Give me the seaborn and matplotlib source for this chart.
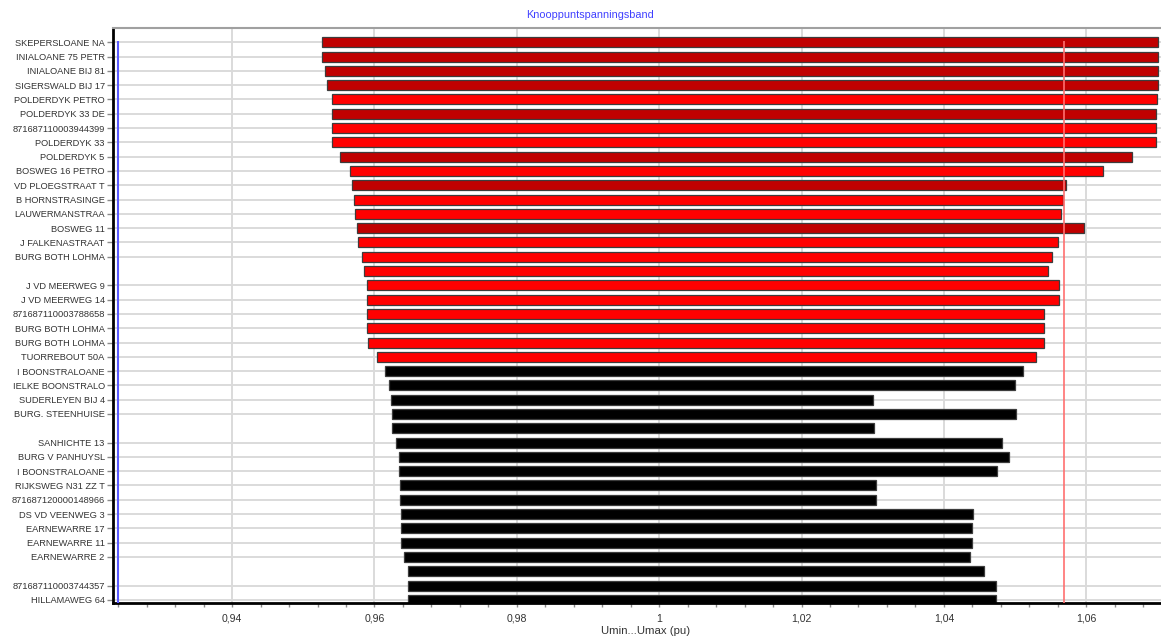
import matplotlib
matplotlib.use("Agg")
import numpy as np
import pandas as pd
import matplotlib.pyplot as plt
import seaborn as sns
from matplotlib.ticker import MultipleLocator, FixedLocator, FuncFormatter

# node names, top to bottom (empty ones have no label in the source)
names = [
    "SKEPERSLOANE NA", "INIALOANE 75 PETR", "INIALOANE BIJ 81", "SIGERSWALD BIJ 17",
    "POLDERDYK PETRO", "POLDERDYK 33 DE", "871687110003944399", "POLDERDYK 33",
    "POLDERDYK 5", "BOSWEG 16 PETRO", "VD PLOEGSTRAAT T", "B HORNSTRASINGE",
    "LAUWERMANSTRAA", "BOSWEG 11", "J FALKENASTRAAT", "BURG BOTH LOHMA", "",
    "J VD MEERWEG 9", "J VD MEERWEG 14", "871687110003788658", "BURG BOTH LOHMA",
    "BURG BOTH LOHMA", "TUORREBOUT 50A", "I BOONSTRALOANE", "IELKE BOONSTRALO",
    "SUDERLEYEN BIJ 4", "BURG. STEENHUISE", "", "SANHICHTE 13", "BURG V PANHUYSL",
    "I BOONSTRALOANE", "RIJKSWEG N31 ZZ T", "871687120000148966", "DS VD VEENWEG 3",
    "EARNEWARRE 17", "EARNEWARRE 11", "EARNEWARRE 2", "", "871687110003744357",
    "HILLAMAWEG 64",
]

u_min = [
    0.9527, 0.9527, 0.9530, 0.9533, 0.9540, 0.9541, 0.9541, 0.9541,
    0.9551, 0.9565, 0.9568, 0.9571, 0.9572, 0.9575, 0.9577, 0.9582, 0.9585,
    0.9589, 0.9589, 0.9590, 0.9590, 0.9591, 0.9603, 0.9615, 0.9620,
    0.9623, 0.9625, 0.9625, 0.9630, 0.9635, 0.9635, 0.9636, 0.9636, 0.9637,
    0.9638, 0.9638, 0.9642, 0.9647, 0.9647, 0.9647,
]

u_max = [
    1.0701, 1.0701, 1.0701, 1.0701, 1.0700, 1.0698, 1.0698, 1.0698,
    1.0664, 1.0624, 1.0571, 1.0568, 1.0564, 1.0597, 1.0560, 1.0552, 1.0546,
    1.0562, 1.0562, 1.0541, 1.0541, 1.0540, 1.0529, 1.0511, 1.0500,
    1.0300, 1.0501, 1.0302, 1.0482, 1.0491, 1.0474, 1.0304, 1.0304, 1.0441,
    1.0440, 1.0440, 1.0437, 1.0456, 1.0473, 1.0473,
]

shade = (["dark"] * 4
         + ["bright", "dark", "bright", "bright", "dark", "bright", "dark",
            "bright", "bright", "dark"]
         + ["bright"] * 9
         + ["black"] * 17)

u_limit = 1.0569   # red reference line
u_low = 0.9240     # blue reference line

shade_colors = {"dark": "#C00000", "bright": "#FF0000", "black": "#000000"}

sns.set_theme(style="whitegrid")
plt.rcParams["font.family"] = ["Liberation Sans", "DejaVu Sans"]

u_min = np.array(u_min)
u_max = np.array(u_max)
df = pd.DataFrame({"row": np.arange(len(names)), "span": u_max - u_min})

fig = plt.figure(figsize=(11.61, 6.36), dpi=100)
ax = fig.add_axes([113 / 1161, 33.3 / 636, 1 - 113 / 1161, 574.7 / 636])

# floating bars: span drawn from Umin (left) to Umax
sns.barplot(data=df, x="span", y="row", orient="y", left=u_min, width=0.7,
            color="black", saturation=1, errorbar=None, edgecolor="#3c3c3c",
            linewidth=0.9, ax=ax, zorder=2)
for patch, s in zip(ax.patches, shade):
    patch.set_facecolor(shade_colors[s])

ax.vlines(u_limit, -0.1, 39.2, color="#ff7070", lw=1.2, zorder=3)
ax.vlines(u_low, -0.1, 39.2, color="#5a5aff", lw=1.5, zorder=3)

ax.set_xlim(0.92327, 1.0705)
ax.set_ylim(39.2, -1.0)
# rows without a name get no tick and no grid line
labeled = [i for i, n in enumerate(names) if n]
ax.yaxis.set_major_locator(FixedLocator(labeled))
ax.set_yticklabels([names[i] for i in labeled])
ax.xaxis.set_major_locator(FixedLocator([0.94, 0.96, 0.98, 1.0, 1.02, 1.04, 1.06]))
ax.xaxis.set_minor_locator(MultipleLocator(0.004))
ax.xaxis.set_major_formatter(FuncFormatter(lambda v, p: f"{round(v, 4):g}".replace(".", ",")))
ax.set_xlabel("")
ax.set_ylabel("")

ax.grid(True, which="major", color="#dadada", lw=1.4)
ax.set_axisbelow(True)

ax.tick_params(axis="y", length=4, width=1, color="#8a8a8a", labelsize=6.7,
               labelcolor="#333333", pad=2, left=True)
ax.tick_params(axis="x", which="both", length=3, width=1, color="#8a8a8a",
               labelsize=7.6, labelcolor="#333333", pad=5, bottom=True)

for side in ["left", "bottom"]:
    ax.spines[side].set_color("black")
    ax.spines[side].set_linewidth(2)
ax.spines["top"].set_color("#a0a0a0")
ax.spines["top"].set_linewidth(1.5)
ax.spines["right"].set_visible(False)

fig.text(590 / 1161, 1 - 15 / 636, "Knooppuntspanningsband", color="#4040ff",
         ha="center", va="center", fontsize=7.8)
fig.text(646 / 1161, 1 - 631 / 636, "Umin...Umax (pu)", color="#333333",
         ha="center", va="center", fontsize=8.2)

fig.savefig("out.png", dpi=100)
